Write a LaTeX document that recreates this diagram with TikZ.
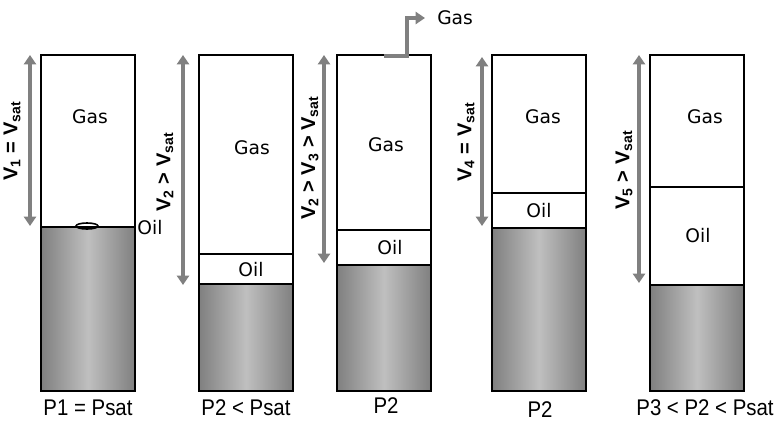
\documentclass[tikz,border=0pt]{standalone}
\usepackage{fontspec}
\setmainfont{DejaVu Sans}
\newfontfamily\narrowfont[FakeStretch=0.9]{Liberation Sans}
\newfontfamily\labelfont{Liberation Sans}
\usetikzlibrary{arrows.meta}

\begin{document}
\begin{tikzpicture}[
        x=0.75pt, y=-0.75pt,
        font=\fontsize{14}{17}\selectfont,
        wall/.style={draw=black, line width=1.5pt},
        rock/.style={left color=black!50, right color=black!50, middle color=black!25},
        volarrow/.style={draw=black!50, line width=3pt, {Triangle[width=9pt,length=7pt]}-{Triangle[width=9pt,length=7pt]}},
        pipe/.style={draw=black!50, line width=3pt, -{Triangle[width=9pt,length=7pt]}},
        vollabel/.style={rotate=90, font=\labelfont\fontsize{15}{18}\selectfont\bfseries},
        preslabel/.style={font=\narrowfont\fontsize{17}{20}\selectfont}]

        \useasboundingbox (0,0) rectangle (778,430);

        % CYLINDERS
        \foreach \i/\xl/\oiltop/\rocktop in {1/41/227/227, 2/199/254/284, 3/337/230/265, 4/492/193/228, 5/650/187/285}{
            \shade[rock] (\xl,\rocktop) rectangle (\xl+94,391);
            \draw[wall] (\xl,55) rectangle (\xl+94,391);
            \draw[wall] (\xl,\oiltop) -- (\xl+94,\oiltop);
            \draw[wall] (\xl,\rocktop) -- (\xl+94,\rocktop);
        }
        % oil drop
        \draw[line width=1.2pt] (87,226) ellipse (11 and 3);

        % NODES
        % gas
        \node (gas1) at (90,117) {Gas};
        \node (gas2) at (252,148) {Gas};
        \node (gas3) at (386,145) {Gas};
        \node (gas4) at (543,117) {Gas};
        \node (gas5) at (705,117) {Gas};
        % oil
        \node (oil1) at (150,228) {Oil};
        \node (oil2) at (251,270) {Oil};
        \node (oil3) at (390,248) {Oil};
        \node (oil4) at (539,211) {Oil};
        \node (oil5) at (698,236) {Oil};
        % volumes
        \node[vollabel] (vol1) at (12,141) {V\textsubscript{1} = V\textsubscript{sat}};
        \node[vollabel] (vol2) at (165,172) {V\textsubscript{2} > V\textsubscript{sat}};
        \node[vollabel] (vol3) at (310,158) {V\textsubscript{2} > V\textsubscript{3} > V\textsubscript{sat}};
        \node[vollabel] (vol4) at (466,142) {V\textsubscript{4} = V\textsubscript{sat}};
        \node[vollabel] (vol5) at (624,170) {V\textsubscript{5} > V\textsubscript{sat}};
        % pressures
        \node[preslabel] (pres1) at (88,408) {P1 = Psat};
        \node[preslabel] (pres2) at (246,408) {P2 < Psat};
        \node[preslabel] (pres3) at (386,406) {P2};
        \node[preslabel] (pres4) at (540,410) {P2};
        \node[preslabel] (pres5) at (705,408) {P3 < P2 < Psat};
        % vented gas
        \node[right, inner sep=0pt] (gasout) at (437,18) {Gas};
        \coordinate (vent) at (384,56);

        % ARROWS
        \coordinate (v1a) at (30,55);  \coordinate (v1b) at (30,226);
        \coordinate (v2a) at (183,55); \coordinate (v2b) at (183,285);
        \coordinate (v3a) at (324,55); \coordinate (v3b) at (324,263);
        \coordinate (v4a) at (482,57); \coordinate (v4b) at (482,226);
        \coordinate (v5a) at (639,55); \coordinate (v5b) at (639,283);
        \foreach \i in {1,...,5}
            \draw[volarrow] (v\i a) -- (v\i b);
        \draw[pipe] (vent) -| (407,18) -- ([xshift=-9pt]gasout.west);
        \end{tikzpicture}
\end{document}
